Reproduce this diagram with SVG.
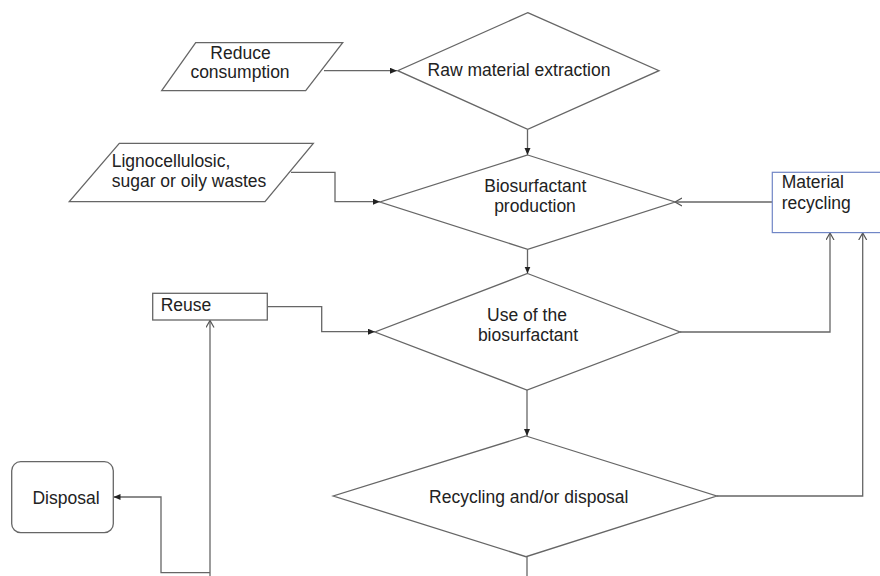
<svg xmlns="http://www.w3.org/2000/svg" width="880" height="576" viewBox="0 0 880 576">
  <defs>
    <style>
      .shape { fill: #ffffff; stroke: #666666; stroke-width: 1.3; }
      .box-blue { fill: #ffffff; stroke: #7086c6; stroke-width: 1.2; }
      .edge { fill: none; stroke: #666666; stroke-width: 1.3; }
      .lbl { font-family: "Liberation Sans", Arial, sans-serif; font-size: 17.5px; fill: #222222; }
      .mid { text-anchor: middle; }
    </style>
    <marker id="solid" markerUnits="userSpaceOnUse" markerWidth="8" markerHeight="8" refX="7" refY="3" orient="auto">
      <path d="M0,0 L7,3 L0,6 z" fill="#222222"/>
    </marker>
    <marker id="open" markerUnits="userSpaceOnUse" markerWidth="10" markerHeight="10" refX="7" refY="4.5" orient="auto">
      <path d="M0,0.5 L7,4.5 L0,8.5" fill="none" stroke="#555555" stroke-width="1.2"/>
    </marker>
  </defs>

  <rect width="880" height="576" fill="#ffffff"/>

  <!-- connectors -->
  <g id="connectors">
    <path class="edge" d="M324,70.7 L397,70.7" marker-end="url(#solid)"/>
    <path class="edge" d="M527.5,129.5 L527.5,155" marker-end="url(#solid)"/>
    <path class="edge" d="M291,172.3 L335,172.3 L335,201.7 L380,201.7" marker-end="url(#solid)"/>
    <path class="edge" d="M772,202 L675,202" marker-end="url(#open)"/>
    <path class="edge" d="M527.5,249.5 L527.5,273.5" marker-end="url(#solid)"/>
    <path class="edge" d="M267.5,306.7 L321.7,306.7 L321.7,331.7 L375,331.7" marker-end="url(#solid)"/>
    <path class="edge" d="M680,332 L830,332 L830,233" marker-end="url(#open)"/>
    <path class="edge" d="M527,390 L527,436" marker-end="url(#solid)"/>
    <path class="edge" d="M716.5,496 L862.7,496 L862.7,233" marker-end="url(#open)"/>
    <path class="edge" d="M527,557 L527,576"/>
    <path class="edge" d="M210,576 L210,320.5" marker-end="url(#open)"/>
    <path class="edge" d="M210,572.7 L161,572.7 L161,497 L113.5,497" marker-end="url(#solid)"/>
  </g>

  <!-- input: reduce consumption -->
  <g id="reduce-consumption">
    <polygon class="shape" points="195.7,42.7 342.7,42.7 305.7,90.7 161.7,90.7"/>
    <text class="lbl mid" x="240.5" y="58.8">Reduce</text>
    <text class="lbl mid" x="240" y="78.3">consumption</text>
  </g>

  <!-- step: raw material extraction -->
  <g id="raw-material-extraction">
    <polygon class="shape" points="527.7,12.7 659,70.7 527.7,129.3 397.7,70.7"/>
    <text class="lbl mid" x="519" y="76">Raw material extraction</text>
  </g>

  <!-- input: wastes -->
  <g id="wastes">
    <polygon class="shape" points="119.3,143.3 313.3,143.3 265,201.7 69.3,201.7"/>
    <text class="lbl" x="111.7" y="167.3">Lignocellulosic,</text>
    <text class="lbl" x="111.7" y="186.8">sugar or oily wastes</text>
  </g>

  <!-- step: biosurfactant production -->
  <g id="biosurfactant-production">
    <polygon class="shape" points="527.7,155 675,202 527.7,249.3 380,202"/>
    <text class="lbl mid" x="535.3" y="192.3">Biosurfactant</text>
    <text class="lbl mid" x="535" y="211.8">production</text>
  </g>

  <!-- material recycling -->
  <g id="material-recycling">
    <rect class="box-blue" x="772.3" y="172.3" width="115" height="60.3"/>
    <text class="lbl" x="781.7" y="188.3">Material</text>
    <text class="lbl" x="781.7" y="209.3">recycling</text>
  </g>

  <!-- reuse -->
  <g id="reuse">
    <rect class="shape" x="152.7" y="293.3" width="114.6" height="26.7"/>
    <text class="lbl" x="160.7" y="310.7">Reuse</text>
  </g>

  <!-- step: use of the biosurfactant -->
  <g id="use-of-biosurfactant">
    <polygon class="shape" points="527.5,273.5 680,332 527,390 375,332"/>
    <text class="lbl mid" x="527" y="321.1">Use of the</text>
    <text class="lbl mid" x="528" y="340.6">biosurfactant</text>
  </g>

  <!-- step: recycling and/or disposal -->
  <g id="recycling-disposal">
    <polygon class="shape" points="526,436 716.7,496 526,556.7 333.3,496"/>
    <text class="lbl mid" x="528.8" y="502.7">Recycling and/or disposal</text>
  </g>

  <!-- disposal -->
  <g id="disposal">
    <rect class="shape" x="11.7" y="461.7" width="101.6" height="71" rx="9" ry="9"/>
    <text class="lbl mid" x="66" y="503.5">Disposal</text>
  </g>
</svg>
